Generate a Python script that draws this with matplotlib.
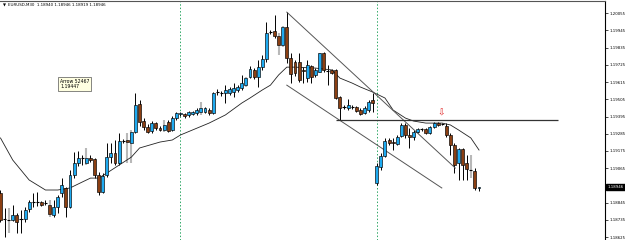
import numpy as np
import matplotlib.pyplot as plt
import matplotlib.transforms as mtransforms

# EURUSD M30 candles (open, high, low, close)
opens = [1.18907, 1.18741, 1.18734, 1.18734, 1.18766, 1.18741, 1.18741, 1.18804, 1.18850, 1.18850,
         1.18850, 1.18843, 1.18830, 1.18766, 1.18817, 1.18907, 1.18939, 1.18817, 1.19022, 1.19098,
         1.19130, 1.19098, 1.19130, 1.19124, 1.19022, 1.18913, 1.19022, 1.19136, 1.19162, 1.19098,
         1.19238, 1.19245, 1.19225, 1.19296, 1.19474, 1.19366, 1.19328, 1.19302, 1.19353, 1.19321,
         1.19309, 1.19360, 1.19309, 1.19385, 1.19411, 1.19411, 1.19405, 1.19411, 1.19417, 1.19424,
         1.19424, 1.19436, 1.19417, 1.19551, 1.19545, 1.19545, 1.19545, 1.19551, 1.19564, 1.19577,
         1.19595, 1.19647, 1.19692, 1.19647, 1.19710, 1.19762, 1.19934, 1.19940, 1.19908, 1.19851,
         1.19966, 1.19768, 1.19742, 1.19742, 1.19692, 1.19640, 1.19717, 1.19660, 1.19679, 1.19800,
         1.19685, 1.19692, 1.19692, 1.19519, 1.19455, 1.19449, 1.19455, 1.19455, 1.19436, 1.19417,
         1.19436, 1.19500, 1.18970, 1.19073, 1.19143, 1.19245, 1.19232, 1.19219, 1.19270, 1.19341,
         1.19277, 1.19264, 1.19296, 1.19315, 1.19315, 1.19289, 1.19328, 1.19353, 1.19347, 1.19334,
         1.19277, 1.19213, 1.19098, 1.19187, 1.19098, 1.19053, 1.19047, 1.18940]
highs = [1.18926, 1.18811, 1.18811, 1.18830, 1.18779, 1.18798, 1.18817, 1.18862, 1.18907, 1.18913,
         1.18856, 1.18862, 1.18862, 1.18862, 1.18894, 1.19002, 1.18945, 1.19053, 1.19168, 1.19175,
         1.19149, 1.19194, 1.19149, 1.19130, 1.19040, 1.19034, 1.19225, 1.19225, 1.19245, 1.19289,
         1.19251, 1.19289, 1.19309, 1.19545, 1.19500, 1.19385, 1.19347, 1.19366, 1.19360, 1.19334,
         1.19372, 1.19372, 1.19398, 1.19424, 1.19424, 1.19417, 1.19430, 1.19430, 1.19449, 1.19487,
         1.19455, 1.19449, 1.19551, 1.19570, 1.19557, 1.19595, 1.19583, 1.19608, 1.19595, 1.19660,
         1.19647, 1.19717, 1.19704, 1.19755, 1.19787, 1.19998, 1.19947, 1.20042, 1.19927, 1.19972,
         1.20061, 1.19800, 1.19755, 1.19800, 1.19710, 1.19755, 1.19723, 1.19704, 1.19800, 1.19806,
         1.19723, 1.19698, 1.19698, 1.19526, 1.19468, 1.19506, 1.19468, 1.19462, 1.19449, 1.19462,
         1.19500, 1.19545, 1.19098, 1.19162, 1.19258, 1.19258, 1.19258, 1.19277, 1.19353, 1.19353,
         1.19321, 1.19309, 1.19321, 1.19321, 1.19321, 1.19334, 1.19360, 1.19360, 1.19353, 1.19353,
         1.19289, 1.19225, 1.19194, 1.19194, 1.19149, 1.19149, 1.19066, 1.18946]
lows = [1.18722, 1.18626, 1.18652, 1.18728, 1.18652, 1.18652, 1.18722, 1.18785, 1.18817, 1.18824,
        1.18824, 1.18830, 1.18753, 1.18753, 1.18779, 1.18881, 1.18753, 1.18811, 1.19002, 1.19079,
        1.19085, 1.19085, 1.19104, 1.19002, 1.18894, 1.18907, 1.19009, 1.19098, 1.19085, 1.19085,
        1.19225, 1.19098, 1.19098, 1.19289, 1.19334, 1.19309, 1.19289, 1.19289, 1.19309, 1.19302,
        1.19296, 1.19296, 1.19302, 1.19372, 1.19398, 1.19385, 1.19392, 1.19405, 1.19405, 1.19405,
        1.19417, 1.19405, 1.19411, 1.19532, 1.19526, 1.19481, 1.19532, 1.19519, 1.19551, 1.19564,
        1.19583, 1.19640, 1.19634, 1.19583, 1.19692, 1.19742, 1.19921, 1.19896, 1.19787, 1.19838,
        1.19736, 1.19608, 1.19653, 1.19615, 1.19608, 1.19615, 1.19608, 1.19647, 1.19672, 1.19679,
        1.19595, 1.19666, 1.19506, 1.19372, 1.19442, 1.19436, 1.19442, 1.19424, 1.19405, 1.19411,
        1.19424, 1.19424, 1.18958, 1.19053, 1.19136, 1.19213, 1.19181, 1.19213, 1.19264, 1.19258,
        1.19194, 1.19245, 1.19289, 1.19302, 1.19283, 1.19283, 1.19321, 1.19334, 1.19341, 1.19264,
        1.19149, 1.19034, 1.18990, 1.18990, 1.18990, 1.19002, 1.18926, 1.18919]
closes = [1.18734, 1.18741, 1.18734, 1.18766, 1.18722, 1.18745, 1.18798, 1.18850, 1.18853, 1.18850,
          1.18830, 1.18843, 1.18773, 1.18817, 1.18881, 1.18958, 1.18817, 1.19022, 1.19098, 1.19130,
          1.19127, 1.19130, 1.19117, 1.19022, 1.18913, 1.19015, 1.19136, 1.19162, 1.19098, 1.19238,
          1.19235, 1.19232, 1.19296, 1.19468, 1.19360, 1.19328, 1.19296, 1.19353, 1.19321, 1.19309,
          1.19341, 1.19302, 1.19385, 1.19417, 1.19417, 1.19398, 1.19424, 1.19424, 1.19436, 1.19449,
          1.19449, 1.19417, 1.19545, 1.19548, 1.19542, 1.19564, 1.19570, 1.19577, 1.19583, 1.19608,
          1.19640, 1.19698, 1.19647, 1.19710, 1.19762, 1.19927, 1.19931, 1.19908, 1.19851, 1.19966,
          1.19768, 1.19666, 1.19672, 1.19628, 1.19685, 1.19723, 1.19647, 1.19692, 1.19800, 1.19692,
          1.19682, 1.19672, 1.19513, 1.19449, 1.19452, 1.19468, 1.19458, 1.19430, 1.19411, 1.19449,
          1.19487, 1.19481, 1.19079, 1.19143, 1.19238, 1.19225, 1.19225, 1.19264, 1.19341, 1.19277,
          1.19264, 1.19296, 1.19315, 1.19312, 1.19289, 1.19328, 1.19353, 1.19341, 1.19344, 1.19277,
          1.19213, 1.19085, 1.19187, 1.19085, 1.19060, 1.19050, 1.18939, 1.18946]
gray_wick_bars = [2, 12, 21, 31, 32, 40, 49, 60, 68, 69, 78, 115]

# moving average, read at a few bars
ma_bars = [0, 3, 7, 11, 14, 17, 20, 22, 24, 26, 29, 32, 34, 39, 42, 44, 51, 55, 59, 61, 64,
           66, 68, 70, 72, 77, 81, 83, 86, 88, 91, 94, 96, 99, 101, 104, 108, 110, 112, 115, 117]
ma_vals = [1.19258, 1.19117, 1.18990, 1.18926, 1.18926, 1.18939, 1.18977, 1.19002, 1.19002,
           1.19034, 1.19085, 1.19136, 1.19194, 1.19232, 1.19245, 1.19277, 1.19353, 1.19405,
           1.19481, 1.19513, 1.19564, 1.19595, 1.19660, 1.19710, 1.19710, 1.19704, 1.19692,
           1.19640, 1.19608, 1.19583, 1.19551, 1.19513, 1.19436, 1.19385, 1.19366, 1.19353,
           1.19353, 1.19341, 1.19309, 1.19258, 1.19181]

# objects
upper_line = ([70, 111.2], [1.20061, 1.19066])
lower_line = ([70, 107.9], [1.19595, 1.18939])
hline_bars = [82, 136.3]
hline_price = 1.19375
day_separators = [44, 92]
arrow_bar, arrow_price = 107.8, 1.19447
price_labels = [1.20055, 1.19945, 1.19835, 1.19725, 1.19615, 1.19505, 1.19395,
                1.19285, 1.19175, 1.19065, 1.18845, 1.18735, 1.18625]
last_price = 1.18946

BULL = '#1eaaf0'
BEAR = '#8b3f12'

fig = plt.figure(figsize=(6.25, 2.4), dpi=100)
ax = fig.add_axes([0, 0, 605 / 625, 239 / 240])
ax.set_xlim(-0.12, 147.8)
ax.set_ylim(1.18607, 1.20132)

x = np.arange(len(opens))
o = np.array(opens); h = np.array(highs); l = np.array(lows); c = np.array(closes)

for sep in day_separators:
    ax.axvline(sep, color='#2fa866', lw=0.7, ls=(0, (1.5, 2)), zorder=1)

# wicks
wick_colors = ['#b8b8b8' if i in gray_wick_bars else 'black' for i in x]
wick_widths = [1.5 if i in gray_wick_bars else 0.7 for i in x]
ax.vlines(x, l, h, colors=wick_colors, linewidths=wick_widths, zorder=2)

# bodies
doji = np.abs(c - o) < 0.00004
body_bottom = np.minimum(o, c)
body_height = np.abs(c - o)
colors = np.where(c >= o, BULL, BEAR)
ax.bar(x[~doji], body_height[~doji], bottom=body_bottom[~doji], width=0.72,
       color=colors[~doji], edgecolor='black', linewidth=0.45, zorder=3)
ax.hlines((o[doji] + c[doji]) / 2, x[doji] - 0.4, x[doji] + 0.4, color='black', lw=0.8, zorder=3)

# moving average
ax.plot(ma_bars, ma_vals, color='#222222', lw=0.6, zorder=2)

# trend lines and level
ax.plot(*upper_line, color='#555555', lw=0.7, zorder=2)
ax.plot(*lower_line, color='#555555', lw=0.7, zorder=2)
ax.hlines(hline_price, hline_bars[0], hline_bars[1], color='#333333', lw=0.9, zorder=2)

# arrow object
ax.text(arrow_bar, arrow_price, '\u21e9', color='#e02020', fontsize=6.5,
        ha='center', va='top', zorder=4)

# right price scale
for s in ['left', 'bottom']:
    ax.spines[s].set_visible(False)
ax.spines['right'].set_linewidth(0.8)
ax.spines['top'].set_linewidth(0.8)
ax.spines['top'].set_color('#555555')
ax.set_xticks([])
ax.yaxis.tick_right()
ax.set_yticks(price_labels)
ax.set_yticklabels([f'{p:.5f}' for p in price_labels])
ax.tick_params(axis='y', labelsize=2.8, length=2, width=0.5, pad=1, colors='black')

trans = mtransforms.blended_transform_factory(ax.transAxes, ax.transData)
ax.text(1.004, last_price, f'{last_price:.5f}', transform=trans, fontsize=2.8,
        color='white', va='center', ha='left',
        bbox=dict(boxstyle='square,pad=0.35', fc='black', ec='black'), clip_on=False)

# header
fig.text(3 / 625, 1 - 5.5 / 240, '\u25bc', fontsize=2.8, va='center', ha='left')
fig.text(8 / 625, 1 - 5.5 / 240, 'EURUSD,M30  1.18940 1.18946 1.18919 1.18946',
         fontsize=2.9, va='center', ha='left')

# tooltip
fig.text(60 / 625, 1 - 84 / 240, 'Arrow 52467\n1.19447', fontsize=3.3, va='center',
         ha='left', linespacing=1.1,
         bbox=dict(boxstyle='square,pad=0.35', fc='#ffffe1', ec='#555555', lw=0.5))

fig.savefig('out.png', dpi=100)
